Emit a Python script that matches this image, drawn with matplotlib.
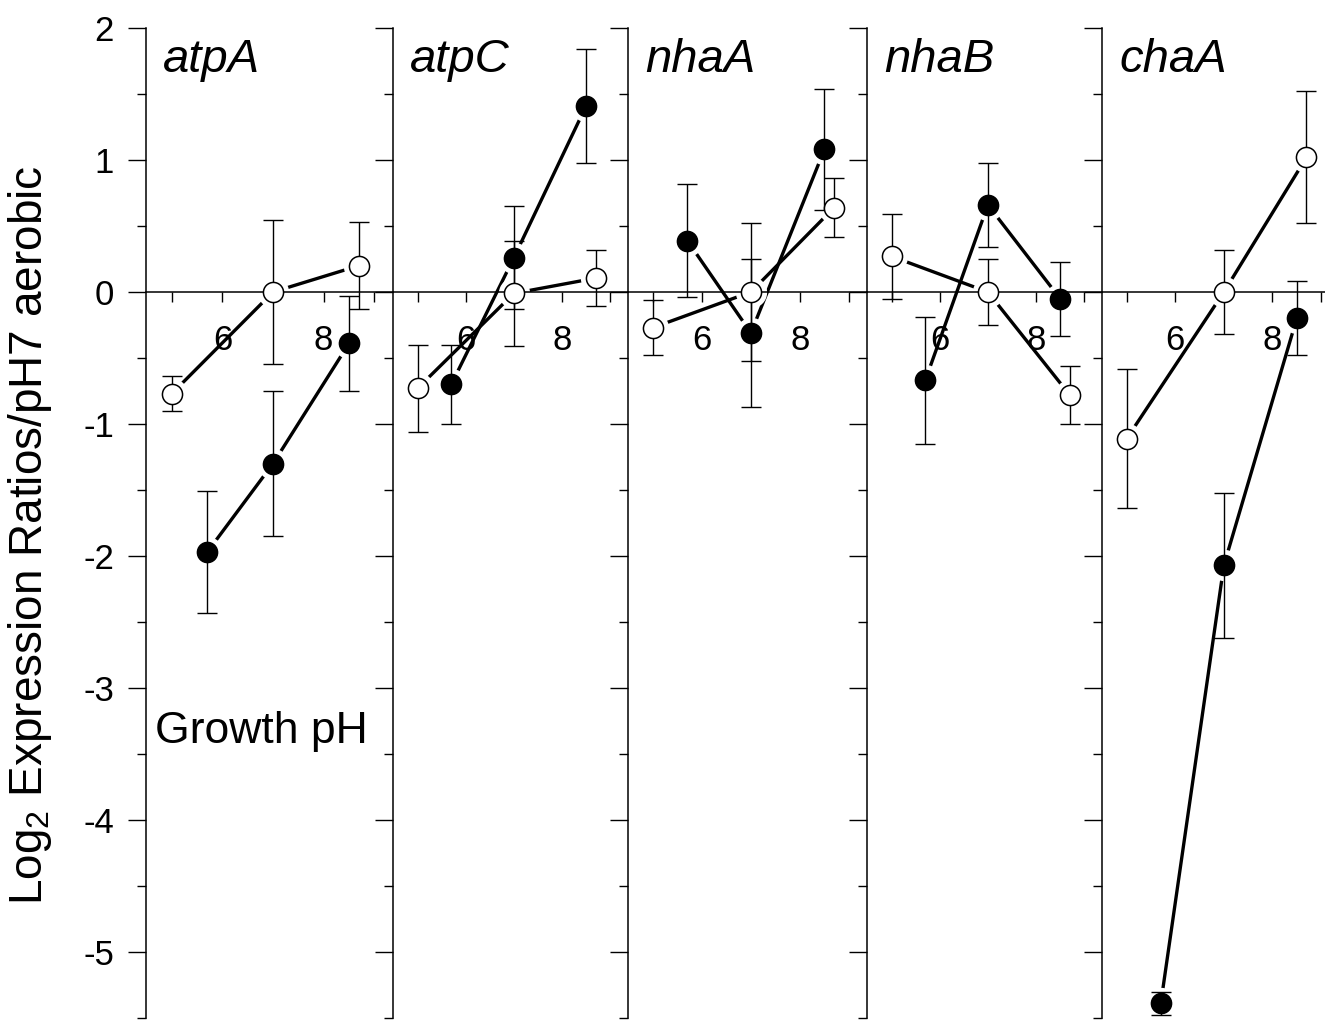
import matplotlib
matplotlib.use("Agg")
import matplotlib.pyplot as plt
from matplotlib.ticker import MultipleLocator, FixedLocator, FixedFormatter

plt.rcParams['font.family'] = ['Liberation Sans', 'DejaVu Sans']
plt.rcParams['mathtext.fontset'] = 'custom'
plt.rcParams['mathtext.rm'] = 'Liberation Sans'
plt.rcParams['mathtext.it'] = 'Liberation Sans:italic'
plt.rcParams['axes.unicode_minus'] = False

genes = ['atpA', 'atpC', 'nhaA', 'nhaB', 'chaA']
ph_filled = [5.7, 7.0, 8.5]
ph_open = [5.0, 7.0, 8.7]
filled_mean = [[-1.97, -1.30, -0.39],
               [-0.70, 0.26, 1.41],
               [0.39, -0.31, 1.08],
               [-0.67, 0.66, -0.05],
               [-5.39, -2.07, -0.20]]
filled_err = [[0.46, 0.55, 0.36],
              [0.30, 0.39, 0.43],
              [0.43, 0.56, 0.46],
              [0.48, 0.32, 0.28],
              [0.09, 0.55, 0.28]]
open_mean = [[-0.77, 0.00, 0.20],
             [-0.73, -0.01, 0.105],
             [-0.27, 0.00, 0.64],
             [0.27, 0.00, -0.78],
             [-1.11, 0.00, 1.02]]
open_err = [[0.13, 0.545, 0.33],
            [0.33, 0.40, 0.21],
            [0.21, 0.52, 0.22],
            [0.32, 0.25, 0.22],
            [0.53, 0.32, 0.50]]
x_ticks = [5, 6, 7, 8, 9]
x_ticklabels = ['', '6', '', '8', '']

W, H = 1325, 1022
fig = plt.figure(figsize=(W / 100, H / 100), dpi=100)

lefts = [146, 393, 628, 867, 1102]
rights = [393, 628, 867, 1102, 1339]
top_px, bot_px = 28, 1018

ms = 14.5
for i, g in enumerate(genes):
    l, r = lefts[i], rights[i]
    ax = fig.add_axes([l / W, (H - bot_px) / H, (r - l) / W, (bot_px - top_px) / H])
    ax.set_facecolor('none')
    ax.set_xlim(4.49, 9.37)
    ax.set_ylim(-5.5, 2)
    for s in ['top', 'right']:
        ax.spines[s].set_visible(False)
    ax.spines['bottom'].set_position(('data', 0))
    for s in ['left', 'bottom']:
        ax.spines[s].set_linewidth(1.1)
        ax.spines[s].set_zorder(2.5)
    ax.yaxis.set_major_locator(MultipleLocator(1))
    ax.yaxis.set_minor_locator(MultipleLocator(0.5))
    ax.tick_params(axis='y', which='major', direction='out', length=13, width=1.0,
                   labelsize=25, pad=10)
    ax.tick_params(axis='y', which='minor', direction='out', length=6.5, width=1.0)
    if i > 0:
        ax.tick_params(axis='y', labelleft=False)
    ax.xaxis.set_major_locator(FixedLocator(x_ticks))
    ax.xaxis.set_major_formatter(FixedFormatter(x_ticklabels))
    ax.tick_params(axis='x', which='major', direction='out', length=7.2, width=1.0,
                   labelsize=25, pad=16)

    # connecting lines
    ax.plot(ph_open, open_mean[i], color='black', lw=2.4, zorder=1.5, solid_capstyle='butt')
    ax.plot(ph_filled, filled_mean[i], color='black', lw=2.4, zorder=1.5, solid_capstyle='butt')
    # halos giving the gaps between lines and markers
    ax.plot(ph_open, open_mean[i], ls='none', marker='o', ms=ms + 7, mfc='white', mec='white',
            zorder=1.8)
    ax.plot(ph_filled, filled_mean[i], ls='none', marker='o', ms=ms + 7, mfc='white', mec='white',
            zorder=1.8)
    # error bars
    ax.errorbar(ph_open, open_mean[i], yerr=open_err[i], fmt='none', ecolor='black',
                elinewidth=1.0, capsize=7.5, capthick=1.0, zorder=3)
    ax.errorbar(ph_filled, filled_mean[i], yerr=filled_err[i], fmt='none', ecolor='black',
                elinewidth=1.0, capsize=7.5, capthick=1.0, zorder=3)
    # markers
    ax.plot(ph_open, open_mean[i], ls='none', marker='o', ms=ms, mfc='white', mec='black',
            mew=1.1, zorder=4)
    ax.plot(ph_filled, filled_mean[i], ls='none', marker='o', ms=ms, mfc='black', mec='black',
            mew=1.1, zorder=4)

    ax.annotate(g, xy=(0, 1), xycoords='axes fraction', xytext=(12.5, -32),
                textcoords='offset points', ha='left', va='baseline', fontsize=34,
                fontstyle='italic')
    if i == 0:
        ax.text(4.66, -3.42, 'Growth pH', fontsize=32, ha='left', va='baseline')

fig.text(30 / W, 1 - 535 / H, 'Log$_2$ Expression Ratios/pH7 aerobic', rotation=90,
         ha='center', va='center', fontsize=33)

fig.savefig('out.png', dpi=100)
